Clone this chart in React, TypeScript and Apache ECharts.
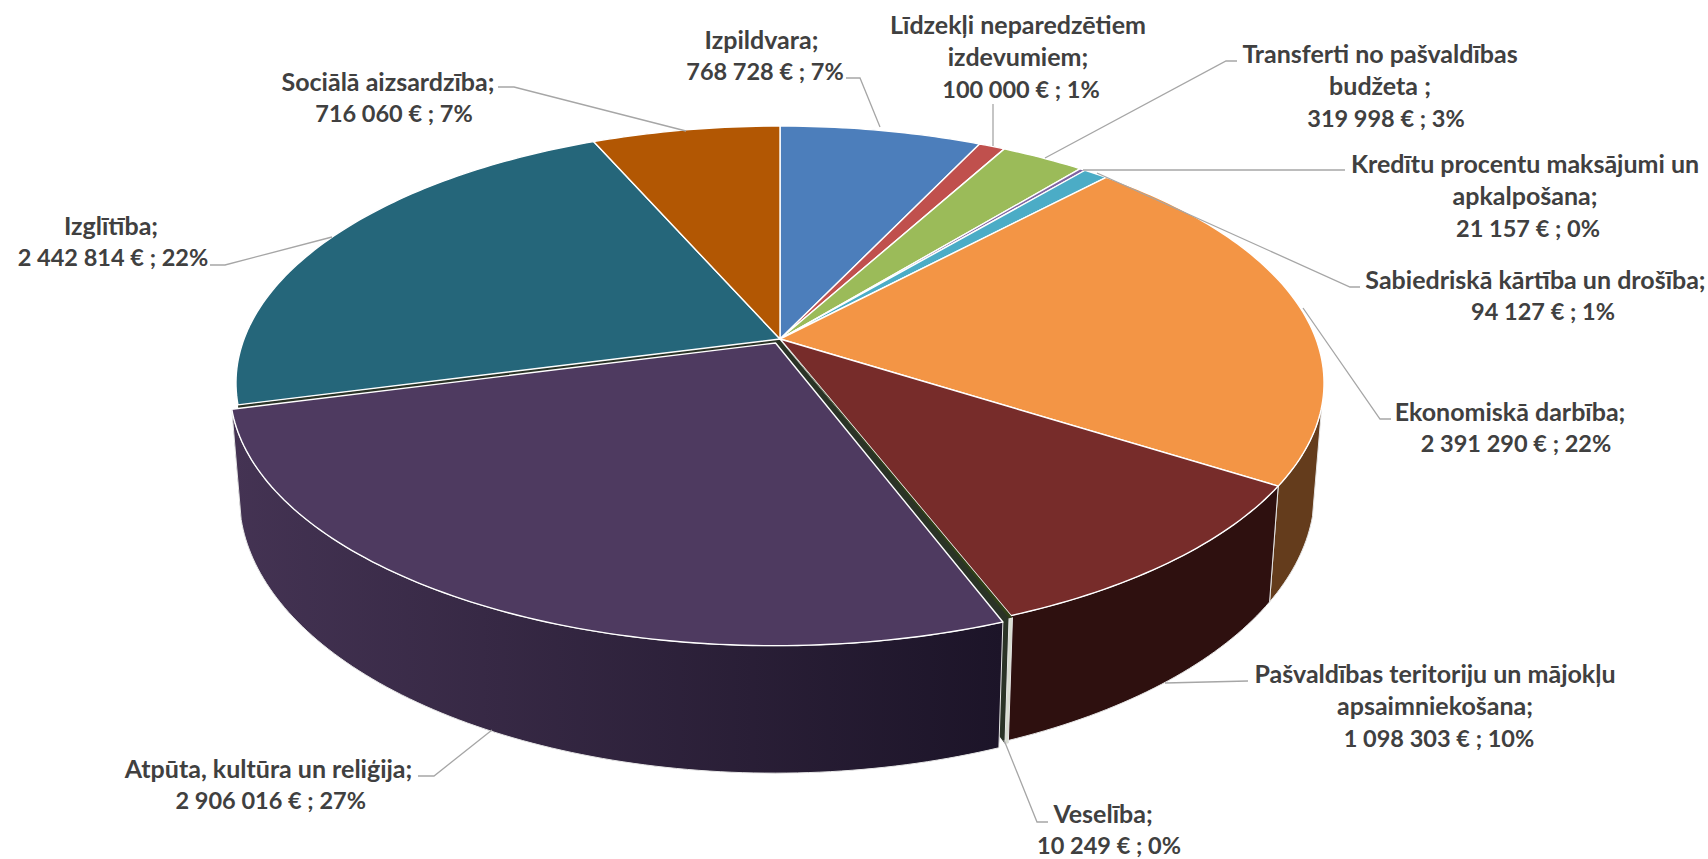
import React, { useEffect, useRef } from "react";
import * as echarts from "echarts";

const categories = [
  "Izpildvara",
  "Līdzekļi neparedzētiem\nizdevumiem",
  "Transferti no pašvaldības\nbudžeta ",
  "Kredītu procentu maksājumi un\napkalpošana",
  "Sabiedriskā kārtība un drošība",
  "Ekonomiskā darbība",
  "Pašvaldības teritoriju un mājokļu\napsaimniekošana",
  "Veselība",
  "Atpūta, kultūra un reliģija",
  "Izglītība",
  "Sociālā aizsardzība",
];
const values = [768728, 100000, 319998, 21157, 94127, 2391290, 1098303, 10249, 2906016, 2442814, 716060];
const topColors = ["#4c7ebb", "#c0504d", "#9bbb59", "#8064a2", "#4bacc6", "#f39545", "#772c2a", "#2f3f18", "#4e3a60", "#25667a", "#b25703"];
const wallColors = ["#2d4c70", "#732f2d", "#5d7035", "#4c3c61", "#2d6776", "#643c1c", "#2e100f", "#d8ddd0", "#443353", "#163d49", "#6a3402"];
const wallColorsEnd = [null, null, null, null, null, null, null, null, "#1c1428", null, null];
const explode = [0, 0, 0, 0, 0, 0, 0, 0.006, 0.018, 0, 0];

// label layout: centre x of name lines, centre x of value line, first-line centre y
const nameX = [761.5, 1018, 1380, 1525, 1535.5, 1510, 1435, 1103, 268.5, 111, 388];
const valueX = [765, 1021, 1386, 1528, 1543, 1516, 1439, 1109, 270.7, 113, 394];
const labelY = [38.5, 23.5, 52.5, 162.5, 278.5, 410.5, 672.5, 812.5, 767.5, 224.5, 80.5];
const leaders: number[][][] = [
  [[880, 127], [860, 78], [846, 78]],
  [[993, 146], [993, 104]],
  [[1045, 158], [1226, 61], [1237, 61]],
  [[1083, 170], [1345, 170]],
  [[1097, 173], [1350, 287], [1360, 287]],
  [[1303, 308], [1380, 419], [1391, 419]],
  [[1165, 683], [1248, 681]],
  [[1004, 740], [1037, 822], [1048, 822]],
  [[492, 730], [434, 776], [418, 776]],
  [[332, 237], [225, 265], [210, 265]],
  [[686, 131], [514, 87], [498, 87]],
];

const total = values.reduce((a, b) => a + b, 0);
const starts: number[] = [];
values.reduce((acc, v, i) => {
  starts[i] = (acc / total) * 360;
  return acc + v;
}, 0);
const angleEnd = (i: number) => starts[i] + (values[i] / total) * 360;

const TOP = { cx: 780, cy: 339, a: 536, b: 249.4, k: 0.171 };
const BOT = { cx: 780, cy: 444, a: 527, b: 268, k: 0.17 };
const WALL_FROM = 105;
const WALL_TO = 255.5;

function project(u: number, v: number, p: typeof TOP) {
  const d = 1 - p.k * v;
  return [p.cx + (p.a * u) / d, p.cy + (p.b * v) / d];
}
function offsetOf(i: number) {
  const mid = (((starts[i] + angleEnd(i)) / 2) * Math.PI) / 180;
  return [explode[i] * Math.sin(mid), -explode[i] * Math.cos(mid)];
}
function pt(deg: number, i: number, p: typeof TOP) {
  const t = (deg * Math.PI) / 180;
  const [ou, ov] = offsetOf(i);
  return project(Math.sin(t) + ou, -Math.cos(t) + ov, p);
}
function centre(i: number, p: typeof TOP) {
  const [ou, ov] = offsetOf(i);
  return project(ou, ov, p);
}
function arc(a0: number, a1: number, i: number, p: typeof TOP) {
  const n = Math.max(1, Math.ceil(Math.abs(a1 - a0)));
  const out: number[][] = [];
  for (let s = 0; s <= n; s++) out.push(pt(a0 + ((a1 - a0) * s) / n, i, p));
  return out;
}
const fmt = (v: number) => String(v).replace(/\B(?=(\d{3})+(?!\d))/g, " ");
const valueText = (i: number) => `${fmt(values[i])} € ; ${Math.round((values[i] / total) * 100)}%`;

const seriesData = values.map((v, i) => [i, v]);

const radial = (params: any) => {
  const i = params.dataIndex;
  const face = (deg: number) => ({
    type: "polygon",
    shape: { points: [centre(i, TOP), pt(deg, i, TOP), pt(deg, i, BOT), centre(i, BOT)] },
    style: { fill: "#2a3326" },
  });
  return { type: "group", children: [face(starts[i]), face(angleEnd(i))] };
};
const wall = (params: any) => {
  const i = params.dataIndex;
  const a0 = Math.max(starts[i], WALL_FROM);
  const a1 = Math.min(angleEnd(i), WALL_TO);
  // Slices behind the silhouette have no visible wall; the thin Veselība wall is still shown.
  if (a1 <= a0 || starts[i] >= WALL_TO - 1) return { type: "group", children: [] };
  const pts = [...arc(a0, a1, i, TOP), ...arc(a1, a0, i, BOT)];
  const fill = wallColorsEnd[i]
    ? {
        type: "linear",
        x: 0,
        y: 0,
        x2: 1,
        y2: 0,
        colorStops: [
          { offset: 0, color: wallColors[i] },
          { offset: 1, color: wallColorsEnd[i] },
        ],
      }
    : wallColors[i];
  return { type: "polygon", shape: { points: pts }, style: { fill, stroke: "#e6e6e6", lineWidth: 1 } };
};
const top = (params: any) => {
  const i = params.dataIndex;
  const pts = [centre(i, TOP), ...arc(starts[i], angleEnd(i), i, TOP)];
  const sliver = explode[i] > 0 && explode[i] < 0.01;
  return {
    type: "polygon",
    shape: { points: pts },
    style: { fill: topColors[i], stroke: sliver ? "none" : "#ffffff", lineWidth: 1.4, lineJoin: "round" },
  };
};
const label = (params: any) => {
  const i = params.dataIndex;
  const names = categories[i].split("\n");
  const lh = 32.5;
  const line = (text: string, x: number, y: number, size: number) => ({
    type: "text",
    x,
    y,
    style: { text, fill: "#404040", fontFamily: "Lato", fontWeight: "bold", fontSize: size, align: "center", verticalAlign: "middle" },
  });
  return {
    type: "group",
    children: [
      { type: "polyline", shape: { points: leaders[i] }, style: { fill: "none", stroke: "#a6a6a6", lineWidth: 1.3 } },
      ...names.map((n, k) =>
        line(k === names.length - 1 ? n + ";" : n, nameX[i], labelY[i] + k * lh, 25)
      ),
      line(valueText(i), valueX[i], labelY[i] + names.length * lh, 23.5),
    ],
  };
};

export default function App() {
  const ref = useRef<HTMLDivElement>(null);
  useEffect(() => {
    const chart = echarts.init(ref.current!, undefined, { renderer: "svg" });
    const mk = (renderItem: any) => ({
      type: "custom",
      coordinateSystem: "none",
      silent: true,
      data: seriesData,
      renderItem,
    });
    chart.setOption({
      animation: false,
      backgroundColor: "#ffffff",
      series: [mk(radial), mk(wall), mk(top), mk(label)],
    });
    return () => chart.dispose();
  }, []);
  return <div ref={ref} style={{ position: "fixed", left: 0, top: 0, width: 1708, height: 859 }} />;
}
